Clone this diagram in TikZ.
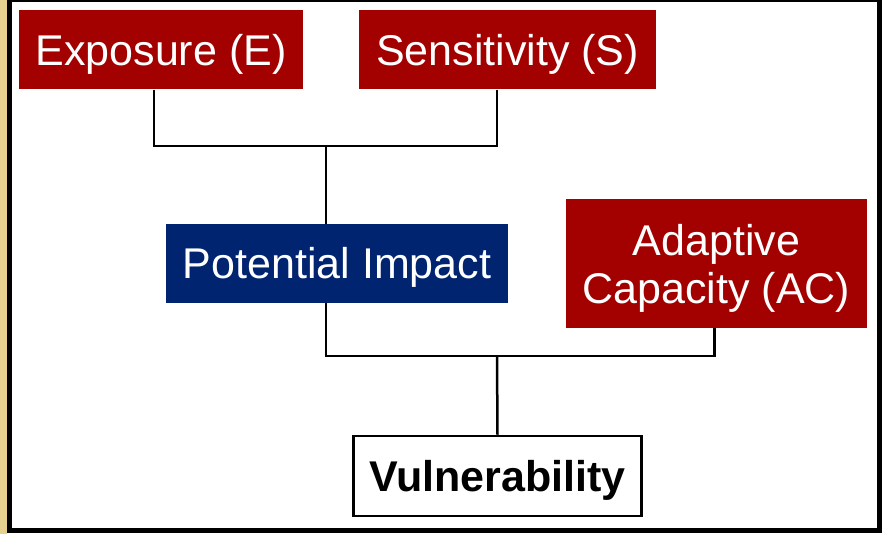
\documentclass[tikz,border=0pt]{standalone}
\usepackage{fontspec}
\setmainfont{Liberation Sans}
\definecolor{boxred}{RGB}{163,0,0}
\definecolor{boxblue}{RGB}{0,36,112}
\definecolor{tan}{RGB}{232,208,144}
\newcommand\capmid[1]{\raisebox{-0.358em}[0pt][0pt]{#1}}
\begin{document}
\begin{tikzpicture}[x=1pt,y=-1pt,
  boxfont/.style={font=\fontsize{43}{48}\selectfont},
  redbox/.style={rectangle,fill=boxred,text=white,inner sep=0pt,boxfont},
  bluebox/.style={rectangle,fill=boxblue,text=white,inner sep=0pt,boxfont},
  resultbox/.style={rectangle,draw=black,line width=2.5pt,fill=white,inner sep=0pt,
    font=\fontsize{43}{48}\selectfont\bfseries},
  labeltext/.style={text=white,inner sep=0pt,align=center,boxfont},
  conn/.style={draw=black,line width=2.5pt}]
\useasboundingbox (0,0) rectangle (884,534);
\fill[white] (0,0) rectangle (884,534);
\fill[tan] (0,0) rectangle (7,534);
\draw[line width=5pt] (9.5,0) rectangle (879.5,530.5);

\node[redbox,minimum width=284pt,minimum height=79pt] (E) at (161,50) {\capmid{Exposure (E)}};
\node[redbox,minimum width=297pt,minimum height=79pt] (S) at (507.5,50) {\capmid{Sensitivity (S)}};
\node[bluebox,minimum width=342pt,minimum height=79pt] (P) at (337,263.5) {\capmid{Potential Impact}};
\node[redbox,minimum width=301pt,minimum height=129pt] (A) at (716.5,263.5) {};
\node[labeltext,yshift=-4.5pt] (At) at (A.center) {Adaptive\\Capacity (AC)};
\node[resultbox,minimum width=288pt,minimum height=80pt] (V) at (497.5,476) {\capmid{Vulnerability}};

\coordinate (j1) at (326,146);
\coordinate (j2) at (497,356);

\draw[conn] ([xshift=-7pt]E.south) |- (j1);
\draw[conn] ([xshift=-10.5pt]S.south) |- (j1);
\draw[conn] (j1) -- (j1 |- P.north);
\draw[conn] (j1 |- P.south) |- (j2);
\draw[conn] ([xshift=-2pt]A.south) |- (j2);
\draw[conn] (j2) -- (V.north);
\end{tikzpicture}
\end{document}
